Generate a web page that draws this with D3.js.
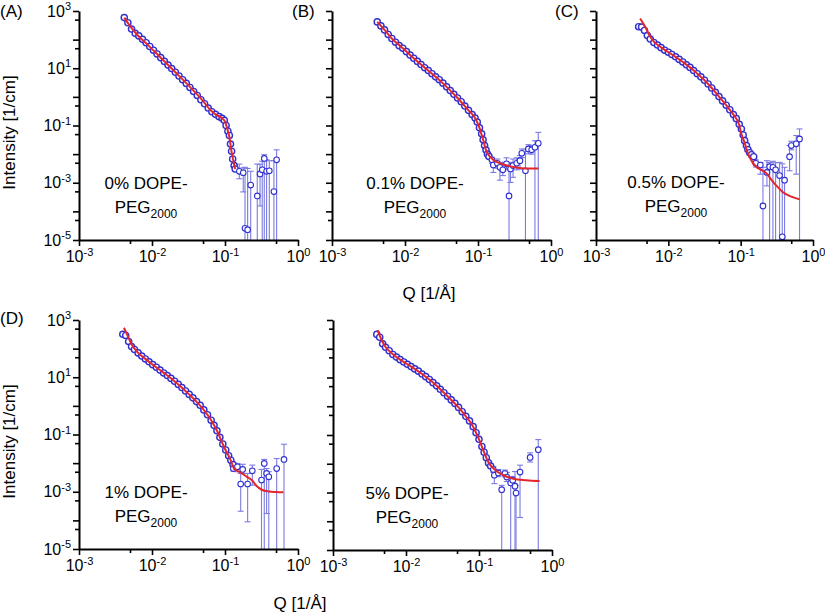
<!DOCTYPE html>
<html><head><meta charset="utf-8">
<script src="https://cdn.jsdelivr.net/npm/d3@7/dist/d3.min.js"></script>
<style>
body{margin:0;background:#fff;}
svg{display:block;font-family:"Liberation Sans",Arial,Helvetica,sans-serif;}
</style></head><body>
<svg id="chart" width="825" height="613"></svg>
<script>
// ---------- axis tick values ----------
const xMajorTicks = [1e-3, 1e-2, 1e-1, 1];
const xMinorTicks = [5e-3, 5e-2, 5e-1];
const yMajorTicks = [1e3, 1e2, 1e1, 1, 1e-1, 1e-2, 1e-3, 1e-4, 1e-5];
const yMinorTicks = [5e2, 5e1, 5, 5e-1, 5e-2, 5e-3, 5e-4, 5e-5];
const yLabelExponents = [3, 1, -1, -3, -5];
const xLabelExponents = [-3, -2, -1, 0];

// ---------- sample names ----------
const samples = ["0%", "0.1%", "0.5%", "1%", "5%"];
const panelTags = ["(A)", "(B)", "(C)", "(D)", ""];

// ---------- data: [log10 Q, log10 I] (dense region) ----------
const denseA = [[-2.38,2.77],[-2.33,2.59],[-2.28,2.37],[-2.23,2.22],[-2.18,2.13],[-2.13,2.01],[-2.08,1.89],[-2.03,1.76],[-1.98,1.63],[-1.93,1.50],[-1.88,1.37],[-1.83,1.24],[-1.78,1.11],[-1.73,0.99],[-1.68,0.86],[-1.63,0.73],[-1.58,0.60],[-1.53,0.47],[-1.48,0.33],[-1.43,0.19],[-1.38,0.05],[-1.33,-0.10],[-1.28,-0.24],[-1.23,-0.39],[-1.18,-0.52],[-1.13,-0.61],[-1.08,-0.69],[-1.04,-0.75],[-1.01,-0.82],[-0.985,-1.00],[-0.96,-1.20],[-0.94,-1.35],[-0.925,-1.65],[-0.91,-1.90],[-0.895,-2.17],[-0.875,-2.40],[-0.86,-2.52]];
const denseB = [[-2.38,2.62],[-2.33,2.48],[-2.28,2.34],[-2.23,2.18],[-2.18,2.04],[-2.13,1.91],[-2.08,1.79],[-2.03,1.70],[-1.98,1.58],[-1.93,1.46],[-1.88,1.35],[-1.83,1.24],[-1.78,1.13],[-1.73,1.02],[-1.68,0.92],[-1.63,0.81],[-1.58,0.70],[-1.53,0.60],[-1.48,0.48],[-1.43,0.35],[-1.38,0.22],[-1.33,0.09],[-1.28,-0.04],[-1.23,-0.17],[-1.18,-0.32],[-1.13,-0.47],[-1.08,-0.62],[-1.04,-0.74],[-1.01,-0.88],[-0.98,-1.08],[-0.95,-1.29],[-0.93,-1.50],[-0.91,-1.70],[-0.89,-1.86],[-0.87,-2.00],[-0.85,-2.08]];
const denseC = [[-2.41,2.45],[-2.37,2.44],[-2.33,2.32],[-2.29,2.14],[-2.25,2.02],[-2.20,1.90],[-2.15,1.81],[-2.10,1.72],[-2.05,1.63],[-2.00,1.56],[-1.95,1.48],[-1.90,1.40],[-1.85,1.31],[-1.80,1.22],[-1.75,1.12],[-1.70,1.03],[-1.65,0.92],[-1.60,0.81],[-1.55,0.70],[-1.50,0.58],[-1.45,0.45],[-1.40,0.31],[-1.35,0.16],[-1.30,0.01],[-1.25,-0.14],[-1.20,-0.29],[-1.15,-0.45],[-1.10,-0.62],[-1.06,-0.76],[-1.02,-0.96],[-0.99,-1.12],[-0.965,-1.33],[-0.945,-1.53],[-0.92,-1.70],[-0.90,-1.84],[-0.875,-1.95],[-0.85,-2.02],[-0.82,-2.09]];
const denseD = [[-2.40,2.50],[-2.36,2.46],[-2.32,2.25],[-2.28,2.07],[-2.24,1.97],[-2.19,1.85],[-2.14,1.74],[-2.09,1.64],[-2.04,1.54],[-1.99,1.44],[-1.94,1.35],[-1.89,1.25],[-1.84,1.15],[-1.79,1.06],[-1.74,0.96],[-1.69,0.86],[-1.64,0.75],[-1.59,0.64],[-1.54,0.52],[-1.49,0.40],[-1.44,0.28],[-1.39,0.15],[-1.34,0.02],[-1.29,-0.14],[-1.24,-0.31],[-1.19,-0.50],[-1.15,-0.68],[-1.11,-0.87],[-1.07,-1.10],[-1.03,-1.33],[-0.99,-1.54],[-0.95,-1.74],[-0.92,-1.90],[-0.89,-2.05]];
const denseE = [[-2.40,2.50],[-2.36,2.40],[-2.32,2.17],[-2.28,2.05],[-2.23,1.93],[-2.18,1.80],[-2.13,1.71],[-2.08,1.62],[-2.03,1.54],[-1.98,1.46],[-1.93,1.38],[-1.88,1.30],[-1.83,1.22],[-1.78,1.12],[-1.73,1.03],[-1.68,0.93],[-1.63,0.82],[-1.58,0.71],[-1.53,0.59],[-1.48,0.47],[-1.43,0.35],[-1.38,0.22],[-1.33,0.10],[-1.28,-0.04],[-1.23,-0.19],[-1.18,-0.35],[-1.13,-0.51],[-1.08,-0.71],[-1.04,-0.92],[-1.00,-1.15],[-0.96,-1.40],[-0.93,-1.60],[-0.90,-1.79],[-0.87,-1.97],[-0.84,-2.08]];

// ---------- sparse high-Q data: [log10 Q, log10 I, log10 lower, log10 upper] ----------
const scatterA = [[-0.804,-2.60,-2.86,-2.35],[-0.75,-2.65,-3.32,-2.48],[-0.726,-4.59,-6,-2.46],[-0.69,-4.64,-6,-2.50],[-0.648,-3.08,-6,-2.60],[-0.558,-3.46,-6,-2.35],[-0.52,-2.69,-3.81,-2.35],[-0.49,-2.55,-6,-2.25],[-0.462,-2.15,-6,-2.02],[-0.43,-2.60,-6,-2.20],[-0.393,-2.58,-6,-2.23],[-0.33,-3.31,-6,-2.23],[-0.293,-2.20,-6,-1.85]];
const scatterB = [[-0.81,-2.20,-2.32,-2.11],[-0.79,-2.38,-2.64,-2.23],[-0.735,-2.32,-2.49,-2.17],[-0.70,-2.46,-2.91,-2.29],[-0.66,-2.55,-2.75,-2.29],[-0.61,-2.34,-2.55,-2.13],[-0.575,-3.46,-6,-2.50],[-0.555,-2.52,-2.99,-2.29],[-0.52,-2.40,-2.81,-2.17],[-0.47,-2.32,-2.55,-2.13],[-0.425,-2.23,-2.52,-2.05],[-0.40,-1.97,-2.12,-1.82],[-0.35,-2.58,-6,-1.82],[-0.31,-1.82,-1.99,-1.67],[-0.265,-1.85,-2.00,-1.70],[-0.22,-1.76,-6,-1.53],[-0.174,-1.62,-6,-1.24]];
const scatterC = [[-0.79,-2.32,-2.45,-2.20],[-0.728,-2.38,-2.70,-2.29],[-0.692,-3.81,-6,-2.46],[-0.637,-2.64,-3.11,-2.23],[-0.60,-2.44,-6,-2.29],[-0.554,-2.46,-6,-2.25],[-0.517,-2.55,-6,-2.30],[-0.462,-2.75,-6,-2.29],[-0.425,-4.89,-6,-2.34],[-0.393,-2.91,-6,-2.46],[-0.324,-2.09,-2.58,-1.70],[-0.30,-1.70,-1.85,-1.55],[-0.232,-1.64,-2.70,-1.35],[-0.186,-1.47,-6,-1.12]];
const scatterD = [[-0.886,-2.19,-2.28,-2.10],[-0.83,-2.13,-2.30,-2.01],[-0.785,-2.73,-3.68,-2.36],[-0.758,-2.22,-2.36,-2.04],[-0.69,-2.73,-4.05,-2.36],[-0.626,-2.27,-2.77,-2.07],[-0.50,-2.59,-6,-2.22],[-0.462,-2.01,-6,-1.87],[-0.43,-2.36,-3.76,-2.19],[-0.40,-2.48,-6,-2.30],[-0.292,-2.19,-6,-1.84],[-0.192,-1.87,-6,-1.34]];
const scatterE = [[-0.804,-2.20,-2.30,-2.10],[-0.79,-2.40,-2.69,-2.28],[-0.735,-2.32,-2.45,-2.20],[-0.689,-2.90,-6,-2.75],[-0.644,-2.34,-2.45,-2.22],[-0.62,-2.46,-2.62,-2.30],[-0.566,-2.67,-6,-2.51],[-0.538,-2.57,-2.70,-2.44],[-0.507,-2.78,-6,-2.27],[-0.493,-3.02,-6,-2.75],[-0.438,-2.29,-3.87,-2.05],[-0.30,-1.78,-1.94,-1.62],[-0.188,-1.51,-6,-1.16]];

// ---------- model fits: [log10 Q, log10 I] ----------
const fitA = [[-2.38,2.77],[-2.30,2.47],[-2.20,2.16],[-2.05,1.80],[-1.90,1.42],[-1.70,0.91],[-1.50,0.40],[-1.30,-0.15],[-1.20,-0.46],[-1.12,-0.63],[-1.04,-0.75],[-1.00,-0.86],[-0.97,-1.10],[-0.94,-1.40],[-0.91,-1.92],[-0.88,-2.30],[-0.86,-2.52]];
const fitB = [[-2.38,2.62],[-2.28,2.34],[-2.18,2.04],[-2.03,1.70],[-1.88,1.35],[-1.73,1.02],[-1.58,0.70],[-1.43,0.35],[-1.28,-0.04],[-1.13,-0.47],[-1.04,-0.74],[-0.98,-1.08],[-0.93,-1.50],[-0.89,-1.86],[-0.85,-2.05],[-0.79,-2.20],[-0.70,-2.32],[-0.60,-2.40],[-0.50,-2.46],[-0.40,-2.49],[-0.30,-2.50],[-0.17,-2.50]];
const fitC = [[-2.39,2.74],[-2.32,2.45],[-2.25,2.10],[-2.20,1.93],[-2.10,1.73],[-2.00,1.56],[-1.90,1.40],[-1.80,1.22],[-1.70,1.03],[-1.60,0.81],[-1.50,0.58],[-1.40,0.31],[-1.30,0.01],[-1.20,-0.29],[-1.10,-0.62],[-1.02,-0.98],[-0.99,-1.30],[-0.945,-1.60],[-0.91,-1.90],[-0.876,-2.11],[-0.78,-2.46],[-0.71,-2.56],[-0.64,-2.68],[-0.58,-2.88],[-0.50,-3.12],[-0.42,-3.32],[-0.34,-3.44],[-0.26,-3.52],[-0.186,-3.58]];
const fitD = [[-2.384,2.73],[-2.33,2.43],[-2.28,2.15],[-2.20,1.88],[-2.10,1.66],[-2.00,1.46],[-1.90,1.27],[-1.80,1.08],[-1.70,0.88],[-1.60,0.66],[-1.50,0.42],[-1.40,0.17],[-1.30,-0.11],[-1.20,-0.46],[-1.10,-0.92],[-1.02,-1.40],[-0.96,-1.70],[-0.93,-1.85],[-0.90,-2.05],[-0.87,-2.22],[-0.84,-2.26],[-0.77,-2.36],[-0.70,-2.48],[-0.634,-2.59],[-0.566,-2.80],[-0.497,-2.93],[-0.40,-2.99],[-0.30,-3.01],[-0.20,-3.02]];
const fitE = [[-2.39,2.65],[-2.33,2.28],[-2.28,2.06],[-2.18,1.81],[-2.08,1.62],[-1.98,1.46],[-1.88,1.30],[-1.78,1.12],[-1.68,0.93],[-1.58,0.71],[-1.48,0.47],[-1.38,0.22],[-1.28,-0.04],[-1.18,-0.35],[-1.08,-0.71],[-1.00,-1.15],[-0.93,-1.60],[-0.87,-1.95],[-0.80,-2.17],[-0.667,-2.40],[-0.53,-2.52],[-0.35,-2.57],[-0.17,-2.60]];

const denseSets = [denseA, denseB, denseC, denseD, denseE];
const scatterSets = [scatterA, scatterB, scatterC, scatterD, scatterE];
const fitSets = [fitA, fitB, fitC, fitD, fitE];

// ---------- layout (positions / styles) ----------
const layout = [
  {left:79,  top:11,  width:219, height:229, yLabels:true,  tagX:0,   tagY:17,  noteX:146, noteY:189},
  {left:332, top:11,  width:219, height:229, yLabels:false, tagX:292, tagY:17,  noteX:415, noteY:189},
  {left:596, top:11,  width:217, height:229, yLabels:false, tagX:555, tagY:17,  noteX:676, noteY:188},
  {left:79,  top:320, width:219, height:229, yLabels:true,  tagX:0,   tagY:324, noteX:146, noteY:498},
  {left:333, top:320, width:219, height:230, yLabels:false, tagX:0,   tagY:0,   noteX:407, noteY:499}
];
const BLUE = "#3030d0", ERR = "#7b7be2", RED = "#e3262d";
const FONT = '"Liberation Sans", Arial, Helvetica, sans-serif';

const svg = d3.select("#chart");
const p10 = v => Math.pow(10, v);

function supText(sel) {
  sel.each(function(d) {
    const t = d3.select(this);
    const e = Math.round(Math.log10(d));
    t.text(null);
    t.append("tspan").text("10");
    t.append("tspan").attr("font-size", 11).attr("dy", "-0.6em").text(String(e));
  });
}

layout.forEach((L, i) => {
  const x = d3.scaleLog().domain([1e-3, 1]).range([L.left, L.left + L.width]);
  const y = d3.scaleLog().domain([1e-5, 1e3]).range([L.top + L.height, L.top]);
  const g = svg.append("g");
  const yMin = 1e-5;

  // error bars
  const pts = scatterSets[i].map(d => ({q: p10(d[0]), I: p10(d[1]), lo: p10(d[2]), hi: p10(d[3])}));
  const eb = g.append("g").attr("stroke", ERR).attr("stroke-width", 1.1).attr("fill", "none");
  eb.selectAll("line.v").data(pts).join("line").attr("class", "v")
    .attr("x1", d => x(d.q)).attr("x2", d => x(d.q))
    .attr("y1", d => y(Math.max(d.lo, yMin))).attr("y2", d => y(d.hi));
  eb.selectAll("line.ch").data(pts).join("line").attr("class", "ch")
    .attr("x1", d => x(d.q) - 3).attr("x2", d => x(d.q) + 3)
    .attr("y1", d => y(d.hi)).attr("y2", d => y(d.hi));
  eb.selectAll("line.cl").data(pts.filter(d => d.lo > yMin)).join("line").attr("class", "cl")
    .attr("x1", d => x(d.q) - 3).attr("x2", d => x(d.q) + 3)
    .attr("y1", d => y(d.lo)).attr("y2", d => y(d.lo));

  // data points
  const densePts = denseSets[i].map(d => ({q: p10(d[0]), I: p10(d[1])}));
  g.append("g").selectAll("circle").data(densePts).join("circle")
    .attr("cx", d => x(d.q)).attr("cy", d => y(d.I)).attr("r", 3.1)
    .attr("fill", "#fff").attr("stroke", BLUE).attr("stroke-width", 1.4);
  g.append("g").selectAll("circle").data(pts).join("circle")
    .attr("cx", d => x(d.q)).attr("cy", d => y(d.I)).attr("r", 2.8)
    .attr("fill", "#fff").attr("stroke", BLUE).attr("stroke-width", 1.1);

  // fit line
  const line = d3.line().x(d => x(p10(d[0]))).y(d => y(p10(d[1]))).curve(d3.curveMonotoneX);
  g.append("path").datum(fitSets[i]).attr("d", line)
    .attr("fill", "none").attr("stroke", RED).attr("stroke-width", 2);

  // x axis
  const xa = g.append("g").attr("transform", `translate(0,${L.top + L.height})`)
    .call(d3.axisBottom(x).tickValues(xMajorTicks).tickSize(6).tickSizeOuter(0).tickPadding(5).tickFormat(d => d));
  xa.attr("font-family", FONT).attr("font-size", 16);
  xa.selectAll(".tick text").attr("fill", "#000").call(supText);
  xa.select(".domain").attr("stroke-width", 2);
  xa.selectAll(".tick line").attr("stroke-width", 1.6);
  const xm = g.append("g").attr("transform", `translate(0,${L.top + L.height})`)
    .call(d3.axisBottom(x).tickValues(xMinorTicks).tickSize(4).tickSizeOuter(0).tickFormat(""));
  xm.select(".domain").remove();
  xm.selectAll(".tick line").attr("stroke-width", 1.6);

  // y axis
  const ya = g.append("g").attr("transform", `translate(${L.left},0)`)
    .call(d3.axisLeft(y).tickValues(yMajorTicks).tickSize(6).tickSizeOuter(0).tickPadding(2).tickFormat(d => d));
  ya.attr("font-family", FONT).attr("font-size", 16);
  ya.select(".domain").attr("stroke-width", 2);
  ya.selectAll(".tick line").attr("stroke-width", 1.6);
  ya.selectAll(".tick text").attr("fill", "#000").each(function(d) {
    const e = Math.round(Math.log10(d));
    if (!L.yLabels || !yLabelExponents.includes(e)) d3.select(this).remove();
  });
  ya.selectAll(".tick text").call(supText);
  const ym = g.append("g").attr("transform", `translate(${L.left},0)`)
    .call(d3.axisLeft(y).tickValues(yMinorTicks).tickSize(4).tickSizeOuter(0).tickFormat(""));
  ym.select(".domain").remove();
  ym.selectAll(".tick line").attr("stroke-width", 1.6);

  // panel tag
  if (panelTags[i]) {
    g.append("text").attr("x", L.tagX).attr("y", L.tagY).attr("font-size", 17)
      .attr("font-family", FONT).text(panelTags[i]);
  }
  // annotation
  g.append("text").attr("x", L.noteX).attr("y", L.noteY).attr("text-anchor", "middle")
    .attr("font-size", 17).attr("font-family", FONT).text(samples[i] + " DOPE-");
  const n2 = g.append("text").attr("x", L.noteX).attr("y", L.noteY + 24).attr("text-anchor", "middle")
    .attr("font-size", 17).attr("font-family", FONT);
  n2.append("tspan").text("PEG");
  n2.append("tspan").attr("font-size", 12).attr("dy", 5).text("2000");

  // y title
  if (L.yLabels) {
    svg.append("text").attr("transform", `translate(15,${L.top + L.height / 2 + 7}) rotate(-90)`)
      .attr("text-anchor", "middle").attr("font-size", 17).attr("font-family", FONT)
      .text("Intensity [1/cm]");
  }
});

// x titles
svg.append("text").attr("x", 429).attr("y", 299).attr("text-anchor", "middle")
  .attr("font-size", 17).attr("font-family", FONT).text("Q [1/Å]");
svg.append("text").attr("x", 300).attr("y", 609).attr("text-anchor", "middle")
  .attr("font-size", 17).attr("font-family", FONT).text("Q [1/Å]");
</script>
</body></html>
